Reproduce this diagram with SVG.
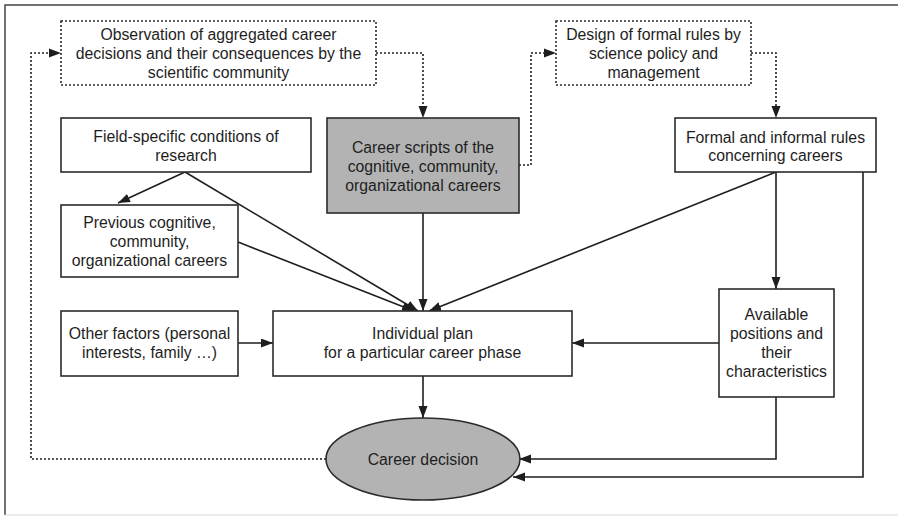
<svg xmlns="http://www.w3.org/2000/svg" width="898" height="516" viewBox="0 0 898 516">
  <style>
    .box { fill: #ffffff; stroke: #2b2b2b; stroke-width: 1.6; }
    .dot { fill: #ffffff; stroke: #2b2b2b; stroke-width: 1.6; stroke-dasharray: 2 2; }
    .gray { fill: #b3b3b3; stroke: #2b2b2b; stroke-width: 1.6; }
    .lbl { font-family: "Liberation Sans", Arial, sans-serif; font-size: 15.8px; fill: #1e1e1e; text-anchor: middle; dominant-baseline: central; }
    .ln { fill: none; stroke: #1e1e1e; stroke-width: 1.6; marker-end: url(#arr); }
    .dln { fill: none; stroke: #1e1e1e; stroke-width: 1.6; stroke-dasharray: 2 2; }
  </style>
  <defs>
    <marker id="arr" markerUnits="userSpaceOnUse" markerWidth="13" markerHeight="10" refX="12" refY="4.5" orient="auto">
      <path d="M0,0 L12,4.5 L0,9 z" fill="#1e1e1e"/>
    </marker>
  </defs>

  <!-- frame -->
  <rect x="0" y="0" width="898" height="516" fill="#ffffff"/>
  <path d="M5,515 L5,5 L898,5" fill="none" stroke="#444" stroke-width="1.5"/>
  <path d="M5,515 L898,515" fill="none" stroke="#d8d8d8" stroke-width="1"/>

  <!-- connectors -->
  <g id="connectors">
    <!-- feedback: decision to observation -->
    <path class="dln" d="M326,459 L31,459 L31,53 L50,53"/>
    <path d="M49,48.5 L61,53 L49,57.5 z" fill="#1e1e1e"/>
    <!-- observation to career scripts -->
    <path class="dln" d="M376,53 L423,53 L423,107"/>
    <path d="M418.5,106 L423,118 L427.5,106 z" fill="#1e1e1e"/>
    <!-- career scripts to design -->
    <path class="dln" d="M519,165 L531,165 L531,53 L545,53"/>
    <path d="M544,48.5 L556,53 L544,57.5 z" fill="#1e1e1e"/>
    <!-- design to formal rules -->
    <path class="dln" d="M751,53 L776,53 L776,107"/>
    <path d="M771.5,106 L776,118 L780.5,106 z" fill="#1e1e1e"/>

    <!-- solid arrows -->
    <path class="ln" d="M185,172 L118,203"/>
    <path class="ln" d="M185,172 L418,311"/>
    <path class="ln" d="M238,242 L414,311"/>
    <path class="ln" d="M423,213 L423,311"/>
    <path class="ln" d="M776,172 L429,311"/>
    <path class="ln" d="M776,172 L776,289"/>
    <path class="ln" d="M238,343 L273,343"/>
    <path class="ln" d="M719,343 L572,343"/>
    <path class="ln" d="M423,376 L423,418"/>
    <path class="ln" d="M776,397 L776,459 L519,459"/>
    <path class="ln" d="M863,172 L863,477 L513,477"/>
  </g>

  <g id="observation">
    <rect class="dot" x="61" y="21" width="315" height="64"/>
    <text class="lbl" x="218.5" y="34">Observation of aggregated career</text>
    <text class="lbl" x="218.5" y="53">decisions and their consequences by the</text>
    <text class="lbl" x="218.5" y="72">scientific community</text>
  </g>

  <g id="design">
    <rect class="dot" x="556" y="21" width="195" height="64"/>
    <text class="lbl" x="653.5" y="34">Design of formal rules by</text>
    <text class="lbl" x="653.5" y="53">science policy and</text>
    <text class="lbl" x="653.5" y="72">management</text>
  </g>

  <g id="field">
    <rect class="box" x="61" y="118" width="250" height="54"/>
    <text class="lbl" x="186" y="136">Field-specific conditions of</text>
    <text class="lbl" x="186" y="155">research</text>
  </g>

  <g id="scripts">
    <rect class="gray" x="327" y="118" width="192" height="95"/>
    <text class="lbl" x="423" y="147">Career scripts of the</text>
    <text class="lbl" x="423" y="166">cognitive, community,</text>
    <text class="lbl" x="423" y="185">organizational careers</text>
  </g>

  <g id="rules">
    <rect class="box" x="675" y="118" width="201" height="54"/>
    <text class="lbl" x="775.5" y="137">Formal and informal rules</text>
    <text class="lbl" x="775.5" y="155">concerning careers</text>
  </g>

  <g id="previous">
    <rect class="box" x="61" y="205" width="177" height="72"/>
    <text class="lbl" x="149.5" y="222">Previous cognitive,</text>
    <text class="lbl" x="149.5" y="241">community,</text>
    <text class="lbl" x="149.5" y="260">organizational careers</text>
  </g>

  <g id="other">
    <rect class="box" x="61" y="311" width="177" height="65"/>
    <text class="lbl" x="149.5" y="333">Other factors (personal</text>
    <text class="lbl" x="149.5" y="352">interests, family …)</text>
  </g>

  <g id="plan">
    <rect class="box" x="273" y="311" width="299" height="65"/>
    <text class="lbl" x="422.5" y="333">Individual plan</text>
    <text class="lbl" x="422.5" y="352">for a particular career phase</text>
  </g>

  <g id="positions">
    <rect class="box" x="719" y="289" width="115" height="108"/>
    <text class="lbl" x="776.5" y="314">Available</text>
    <text class="lbl" x="776.5" y="333">positions and</text>
    <text class="lbl" x="776.5" y="352">their</text>
    <text class="lbl" x="776.5" y="371">characteristics</text>
  </g>

  <g id="decision">
    <ellipse class="gray" cx="423" cy="459" rx="97" ry="41"/>
    <text class="lbl" x="423" y="459">Career decision</text>
  </g>
</svg>
